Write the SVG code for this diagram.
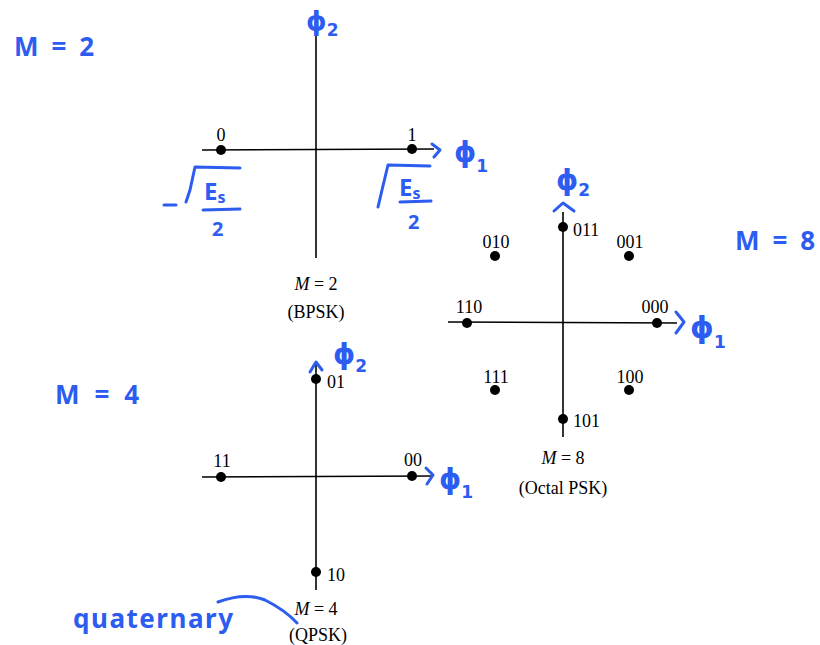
<svg xmlns="http://www.w3.org/2000/svg" width="820" height="645" viewBox="0 0 820 645">
<style>
.ax{stroke:#000;stroke-width:1.6;fill:none}
.dot{fill:#000}
.lb{font-family:"Liberation Serif",serif;font-size:18px;fill:#000}
.c{text-anchor:middle}
.hw{font-family:"Noto Sans",sans-serif;font-weight:bold;fill:#2d5cf0}
.ph{font-family:"DejaVu Sans",sans-serif;font-weight:bold;fill:#2d5cf0}
.hs{stroke:#2d5cf0;stroke-width:3;fill:none;stroke-linecap:round;stroke-linejoin:round}
</style>
<rect width="820" height="645" fill="#fff"/>
<g id="connectors">
<line class="ax" x1="316" y1="33" x2="316" y2="258"/>
<line class="ax" x1="202" y1="150" x2="434" y2="149"/>
<line class="ax" x1="563" y1="212" x2="563" y2="437"/>
<line class="ax" x1="448" y1="322" x2="677" y2="323"/>
<line class="ax" x1="316" y1="364" x2="316" y2="590"/>
<line class="ax" x1="202" y1="477" x2="432" y2="476"/>
</g>
<g id="bpsk">
<circle class="dot" cx="221" cy="150" r="5"/>
<circle class="dot" cx="412" cy="149" r="5"/>
<text class="lb c" x="221" y="141">0</text>
<text class="lb c" x="412" y="141">1</text>
<text class="lb c" x="316" y="290"><tspan font-style="italic">M</tspan> = 2</text>
<text class="lb c" x="316" y="318">(BPSK)</text>
</g>
<g id="qpsk">
<circle class="dot" cx="316" cy="379" r="5"/>
<circle class="dot" cx="316" cy="572" r="5"/>
<circle class="dot" cx="221" cy="477" r="5"/>
<circle class="dot" cx="412" cy="476" r="5"/>
<text class="lb" x="327" y="388">01</text>
<text class="lb" x="327" y="581">10</text>
<text class="lb c" x="222" y="467">11</text>
<text class="lb c" x="413" y="466">00</text>
<text class="lb c" x="316" y="615"><tspan font-style="italic">M</tspan> = 4</text>
<text class="lb c" x="318" y="641">(QPSK)</text>
</g>
<g id="psk8">
<circle class="dot" cx="563" cy="227" r="5"/>
<circle class="dot" cx="563" cy="419" r="5"/>
<circle class="dot" cx="467" cy="323" r="5"/>
<circle class="dot" cx="657" cy="323" r="5"/>
<circle class="dot" cx="495" cy="256" r="5"/>
<circle class="dot" cx="629" cy="256" r="5"/>
<circle class="dot" cx="495" cy="390" r="5"/>
<circle class="dot" cx="629" cy="390" r="5"/>
<text class="lb" x="573" y="236">011</text>
<text class="lb c" x="496" y="248">010</text>
<text class="lb c" x="630" y="248">001</text>
<text class="lb c" x="469" y="313">110</text>
<text class="lb c" x="655" y="313">000</text>
<text class="lb c" x="496" y="383">111</text>
<text class="lb c" x="630" y="383">100</text>
<text class="lb" x="573" y="427">101</text>
<text class="lb c" x="563" y="464"><tspan font-style="italic">M</tspan> = 8</text>
<text class="lb c" x="563" y="494">(Octal PSK)</text>
</g>
<g id="annotations">
<text class="hw" x="14" y="56" font-size="26" textLength="80">M = 2</text>
<text class="hw" x="55" y="404" font-size="26" textLength="84">M = 4</text>
<text class="hw" x="735" y="250" font-size="26" textLength="80">M = 8</text>
<text class="hw" x="73" y="628" font-size="26" textLength="160">quaternary</text>
<path class="hs" d="M218 602 Q245 592 265 600 Q285 610 297 623"/>
<!-- BPSK phi labels -->
<text class="ph" x="306" y="30" font-size="26">ϕ<tspan font-size="17" dy="6">2</tspan></text>
<text class="ph" x="454" y="162" font-size="28">ϕ<tspan font-size="17" dy="10">1</tspan></text>
<path class="hs" d="M432 144 L440 150 L434 157"/>
<!-- sqrt labels -->
<path class="hs" d="M164 205 L176 205"/>
<path class="hs" d="M186 202 L190 190 L195 167 L240 168"/>
<text class="hw" x="204" y="200" font-size="24">E<tspan font-size="16" dy="3">s</tspan></text>
<path class="hs" d="M203 210 L240 209"/>
<text class="hw" x="212" y="236" font-size="20">2</text>
<path class="hs" d="M378 207 L382 190 L388 165 L430 166"/>
<text class="hw" x="399" y="196" font-size="24">E<tspan font-size="16" dy="3">s</tspan></text>
<path class="hs" d="M400 202 L431 201"/>
<text class="hw" x="408" y="229" font-size="20">2</text>
<!-- 8PSK -->
<text class="ph" x="556" y="190" font-size="28">ϕ<tspan font-size="17" dy="6">2</tspan></text>
<path class="hs" d="M554 211 L563 203 L574 211"/>
<path class="hs" d="M676 312 L684 322 L676 333"/>
<text class="ph" x="690" y="338" font-size="30">ϕ<tspan font-size="17" dy="10">1</tspan></text>
<!-- QPSK -->
<path class="hs" d="M310 372 L316 362 L322 370"/>
<text class="ph" x="333" y="364" font-size="28">ϕ<tspan font-size="17" dy="8">2</tspan></text>
<path class="hs" d="M426 468 L433 475 L427 484"/>
<text class="ph" x="439" y="489" font-size="28">ϕ<tspan font-size="17" dy="9">1</tspan></text>
</g>
</svg>
